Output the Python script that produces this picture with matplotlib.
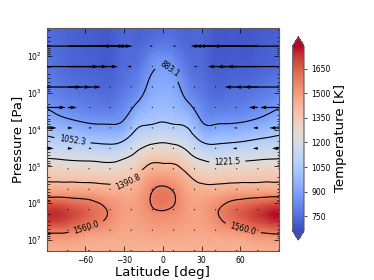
import numpy as np
import matplotlib
matplotlib.use("Agg")
import matplotlib.pyplot as plt
from matplotlib.tri import Triangulation, UniformTriRefiner

# temperature grid: 19 latitudes x 13 pressure levels (log10 Pa)
lat_T = np.arange(-90, 91, 10)
logp_T = np.linspace(1.23, 7.30, 13)

# one list per latitude, top (low pressure) to bottom
temp_cols = [
    [750, 760, 775, 800, 850, 960, 1075, 1219, 1360, 1530, 1760, 1580, 1440],   # -90
    [735, 740, 750, 775, 820, 915, 1060, 1210, 1355, 1530, 1740, 1570, 1440],   # -80
    [720, 722, 730, 755, 800, 890, 1045, 1200, 1350, 1522, 1695, 1550, 1440],   # -70
    [710, 712, 720, 745, 785, 870, 1025, 1195, 1345, 1515, 1650, 1515, 1440],   # -60
    [705, 705, 712, 735, 775, 860, 1012, 1188, 1340, 1495, 1600, 1495, 1440],   # -50
    [705, 705, 710, 730, 772, 858, 1005, 1182, 1335, 1470, 1540, 1480, 1440],   # -40
    [740, 740, 745, 770, 815, 890, 1040, 1215, 1345, 1460, 1490, 1465, 1435],   # -30
    [722, 738, 765, 810, 880, 1000, 1130, 1270, 1400, 1475, 1490, 1465, 1430],  # -20
    [738, 772, 845, 900, 955, 1030, 1170, 1345, 1475, 1555, 1530, 1475, 1420],  # -10
    [745, 790, 880, 925, 975, 1045, 1190, 1350, 1490, 1600, 1545, 1480, 1415],  # 0
    [738, 772, 842, 900, 955, 1030, 1170, 1340, 1470, 1555, 1530, 1475, 1420],  # 10
    [722, 738, 765, 810, 880, 1000, 1125, 1265, 1400, 1475, 1490, 1465, 1430],  # 20
    [735, 735, 740, 765, 810, 880, 1030, 1205, 1345, 1460, 1490, 1465, 1435],   # 30
    [700, 700, 705, 728, 770, 856, 1008, 1182, 1335, 1470, 1540, 1480, 1440],   # 40
    [695, 698, 705, 732, 775, 862, 1018, 1188, 1340, 1495, 1605, 1495, 1440],   # 50
    [690, 695, 705, 738, 782, 870, 1030, 1192, 1345, 1512, 1655, 1515, 1440],   # 60
    [695, 700, 712, 750, 800, 890, 1048, 1200, 1350, 1520, 1705, 1550, 1440],   # 70
    [705, 712, 725, 770, 825, 920, 1065, 1210, 1355, 1530, 1750, 1570, 1440],   # 80
    [715, 722, 740, 790, 850, 960, 1078, 1215, 1360, 1532, 1775, 1580, 1440],   # 90
]

levels = [883.1, 1052.3, 1221.5, 1390.8, 1560.0]
cbar_ticks = [750, 900, 1050, 1200, 1350, 1500, 1650]
t_min, t_max = 661, 1787

# wind grid (zonal wind, m/s), 12 x 12
lat_q = np.linspace(-90, 90, 12)
logp_q = np.linspace(1.175, 7.29, 12)
u_rows = [
    [0] * 12,
    [2640, 2280, 1560, 880, 0, -120, 120, 0, -1000, -1680, -2360, -2640],
    [2080, 1600, 1160, 0, -160, 0, 0, 120, 0, -1160, -1640, -2080],
    [1400, 920, 480, 0, 0, 0, 0, 0, 0, -480, -920, -1400],
    [760, 360, 80, 0, 0, 0, 0, 0, 0, -80, -360, -760],
    [400, 200, 120, 0, 0, 0, 0, 0, 0, -120, -200, -380],
    [280, 200, 120, 0, 0, 0, 0, 0, 0, -160, -200, -280],
    [0] * 12,
    [0] * 12,
    [0] * 12,
    [0] * 12,
    [0] * 12,
]

# y axis is -log10(p) so that high pressure sits at the bottom
temp = np.array(temp_cols).T
LAT, LOGP = np.meshgrid(lat_T, logp_T)

# smooth the field with matplotlib's cubic tri refiner (on a unit-spaced grid)
dlat, dlogp = lat_T[1] - lat_T[0], logp_T[1] - logp_T[0]
tri = Triangulation(LAT.ravel() / dlat, (LOGP.ravel() - logp_T[0]) / dlogp)
tri_f, temp_f = UniformTriRefiner(tri).refine_field(temp.ravel(), subdiv=3)
tri_d = Triangulation(tri_f.x * dlat, -(tri_f.y * dlogp + logp_T[0]), tri_f.triangles)

fig = plt.figure(figsize=(3.74, 2.8), dpi=100)
ax = fig.add_axes([0.1249, 0.1036, 0.6211, 0.7975])
cax = fig.add_axes([0.7826, 0.1429, 0.0302, 0.725])

mesh = ax.tripcolor(tri_d, temp_f, cmap='coolwarm', vmin=t_min, vmax=t_max,
                    shading='gouraud')
cs = ax.tricontour(tri_d, temp_f, levels=levels, colors='k', linewidths=0.8)
ax.clabel(cs, fmt='%.1f', fontsize=5.5, inline=True,
          manual=[(5, -2.35), (-70, -4.28), (50, -4.9), (-27, -5.4),
                  (-60, -6.6), (62, -6.72)])

QLAT, QLOGP = np.meshgrid(lat_q, logp_q)
u = np.array(u_rows, dtype=float)
ax.quiver(QLAT, -QLOGP, u, np.zeros_like(u), color='k', scale=51.6,
          scale_units='x', width=0.0055, zorder=3)

ax.set_xlim(-90, 90)
ax.set_ylim(-7.30, -1.23)
ax.set_xticks([-60, -30, 0, 30, 60])
ax.set_yticks([-k for k in range(2, 8)])
ax.set_yticklabels([r'$10^{%d}$' % k for k in range(2, 8)])
minor = [-np.log10(m * 10.0 ** k) for k in range(1, 8) for m in range(2, 10)]
ax.set_yticks([v for v in minor if -7.30 < v < -1.23], minor=True)
ax.tick_params(which='both', direction='in', top=True, right=True,
               labelsize=5.5, width=0.5)
ax.tick_params(which='major', length=3.5)
ax.tick_params(which='minor', length=1.8)
for s in ax.spines.values():
    s.set_color('0.35')

ax.set_xlabel('Latitude [deg]', fontsize=9.5, labelpad=1)
ax.set_ylabel('Pressure [Pa]', fontsize=9.5, labelpad=2)

cb = fig.colorbar(mesh, cax=cax, extend='both', ticks=cbar_ticks)
cb.ax.tick_params(labelsize=5.5, length=2, width=0.5)
cb.outline.set_edgecolor('0.35')
cb.set_label('Temperature [K]', fontsize=9.5, labelpad=2)

fig.savefig('out.png', dpi=100)
